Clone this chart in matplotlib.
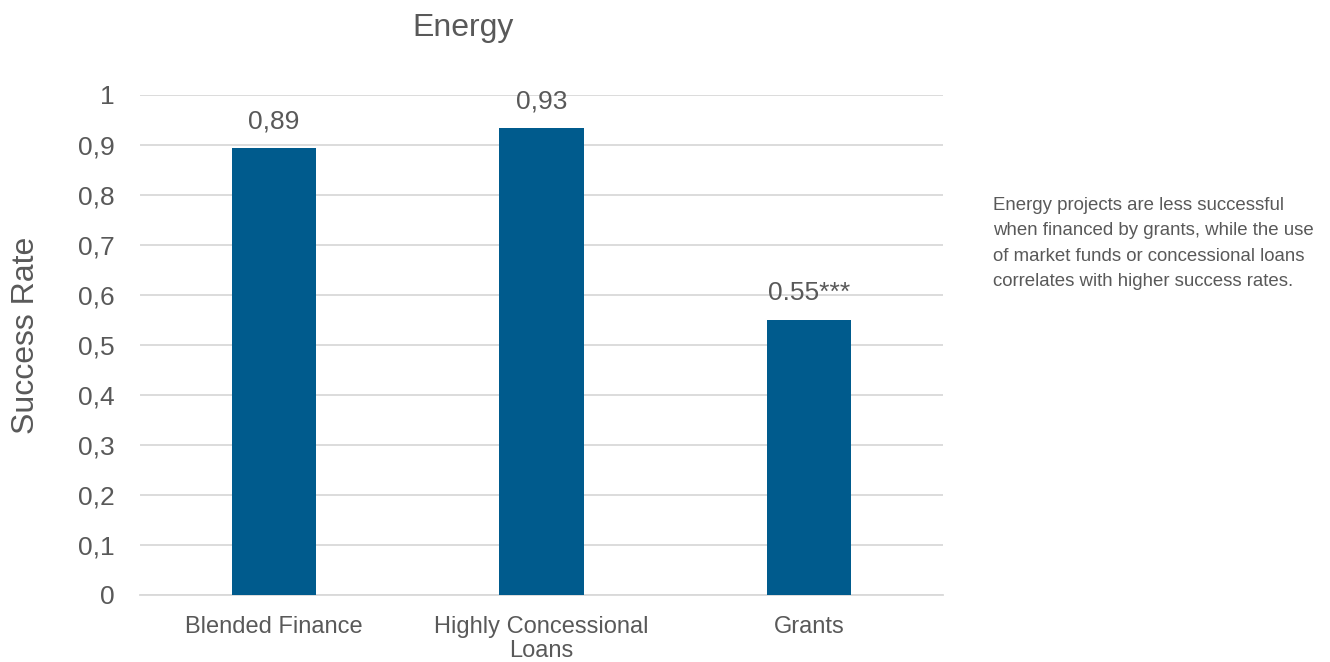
import matplotlib
matplotlib.use("Agg")
import matplotlib.pyplot as plt
import numpy as np

plt.rcParams['font.family'] = ['Liberation Sans', 'DejaVu Sans']

categories = ['Blended Finance', 'Highly Concessional\nLoans', 'Grants']
values = [0.894, 0.934, 0.551]
bar_labels = ['0,89', '0,93', '0.55***']
yticks = [0, 0.1, 0.2, 0.3, 0.4, 0.5, 0.6, 0.7, 0.8, 0.9, 1]
ytick_labels = ['0', '0,1', '0,2', '0,3', '0,4', '0,5', '0,6', '0,7', '0,8', '0,9', '1']
note = ("Energy projects are less successful\n"
        "when financed by grants, while the use\n"
        "of market funds or concessional loans\n"
        "correlates with higher success rates.")

grey = '#595959'
bar_col = '#005B8D'

fig = plt.figure(figsize=(13.3, 6.62), dpi=100)
ax = fig.add_axes([140/1330, 1-595/662, (943-140)/1330, 500/662])

x = np.arange(len(categories))
bars = ax.bar(x, values, width=0.315, color=bar_col, zorder=3)
for b, lab in zip(bars, bar_labels):
    ax.text(b.get_x()+b.get_width()/2, b.get_height()+0.028, lab,
            ha='center', va='bottom', fontsize=19, color=grey)

ax.set_xlim(-0.5, 2.5)
ax.set_ylim(0, 1)
ax.set_yticks(yticks)
ax.set_yticklabels(ytick_labels)
ax.set_xticks(x)
ax.set_xticklabels(categories, linespacing=1.1)
ax.tick_params(axis='y', length=0, pad=18, labelsize=19, labelcolor=grey)
ax.tick_params(axis='x', length=0, pad=15, labelsize=17, labelcolor=grey)
ax.grid(axis='y', color='#D9D9D9', linewidth=1.3, zorder=0)
for s in ['top', 'right', 'left']:
    ax.spines[s].set_visible(False)
ax.spines['bottom'].set_color('#D9D9D9')
ax.spines['bottom'].set_linewidth(1.3)

fig.text(463/1330, 1-28/662, 'Energy', ha='center', va='center', fontsize=23, color=grey)
fig.text(26/1330, 1-335/662, 'Success Rate', ha='center', va='center',
         rotation=90, fontsize=23, color=grey)
fig.text(993/1330, 1-197/662, note, ha='left', va='top', fontsize=13.4,
         color=grey, linespacing=1.65)

fig.savefig('out.png', dpi=100)
